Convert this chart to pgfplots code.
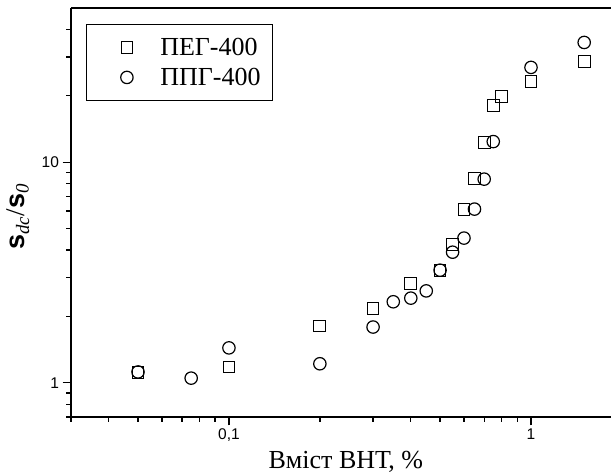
\documentclass[border=0pt]{standalone}
\usepackage{pgfplots}
\pgfplotsset{compat=1.18}
\usepackage{fontspec}
\setmainfont{Liberation Serif}
\setsansfont{Liberation Sans}
\begin{document}
\begin{tikzpicture}
\begin{axis}[
  scale only axis, width=540bp, height=409bp,
  xmode=log, ymode=log,
  xmin=0.03, xmax=1.84, ymin=0.7, ymax=50,
  axis x line*=box, axis y line*=left,
  x axis line style={-}, y axis line style={-},
  axis line style={line width=1.6bp},
  xtick={0.1,1}, xticklabels={{0,1},1},
  ytick={1,10}, yticklabels={1,10},
  minor xtick={0.03,0.04,0.05,0.06,0.07,0.08,0.09,0.2,0.3,0.4,0.5,0.6,0.7,0.8,0.9},
  minor ytick={0.7,0.8,0.9,2,3,4,5,6,7,8,9,20,30,40},
  tick align=outside, xtick pos=left, ytick pos=left,
  major tick length=8.5bp, minor tick length=5bp,
  every tick/.style={line width=1.3bp, black},
  tick label style={font=\sffamily\fontsize{15.5bp}{18bp}\selectfont},
  xlabel={Вміст ВНТ, \%},
  xlabel style={font=\fontsize{26bp}{30bp}\selectfont, at={(axis description cs:0.509,-0.110)}, anchor=center},
  ylabel={{\sffamily\bfseries s}\textsubscript{\itshape dc}/{\sffamily\bfseries s}\textsubscript{\itshape 0}},
  ylabel style={font=\fontsize{27bp}{30bp}\selectfont, at={(axis description cs:-0.098,0.49)}, anchor=center},
  legend style={at={(axis description cs:0.028,0.961)}, anchor=north west, draw=black, line width=0.8bp,
    font=\fontsize{26bp}{30bp}\selectfont, inner xsep=10bp, inner ysep=11.5bp, row sep=7.4bp, column sep=0bp,
    nodes={inner sep=2bp}},
  legend cell align=left,
  legend image code/.code={\path (0bp,0bp) (61bp,0bp); \draw[#1] plot coordinates {(30bp,0bp)};},
]
\coordinate (ll) at (rel axis cs:0,0);
\addplot[only marks, mark=square, mark size=5.9bp, mark options={solid, fill=white, line width=1.0bp}] coordinates {
(0.05,1.11) (0.1,1.18) (0.2,1.81) (0.3,2.18) (0.4,2.83) (0.5,3.24) (0.55,4.25) (0.6,6.1) (0.65,8.47) (0.7,12.3) (0.75,18.1) (0.8,19.9) (1,23.3) (1.5,28.6)
};
\addlegendentry{ПЕГ-400}
\addplot[only marks, mark=o, mark size=6.2bp, mark options={solid, fill=white, line width=1.2bp}] coordinates {
(0.05,1.12) (0.075,1.05) (0.1,1.44) (0.2,1.22) (0.3,1.79) (0.35,2.33) (0.4,2.42) (0.45,2.61) (0.5,3.24) (0.55,3.91) (0.6,4.53) (0.65,6.13) (0.7,8.38) (0.75,12.4) (1,26.9) (1.5,34.9)
};
\addlegendentry{ППГ-400}
\end{axis}
\pgfresetboundingbox
\useasboundingbox (ll) ++(-71bp,-58bp) rectangle ++(611bp,475bp);
\end{tikzpicture}
\end{document}
